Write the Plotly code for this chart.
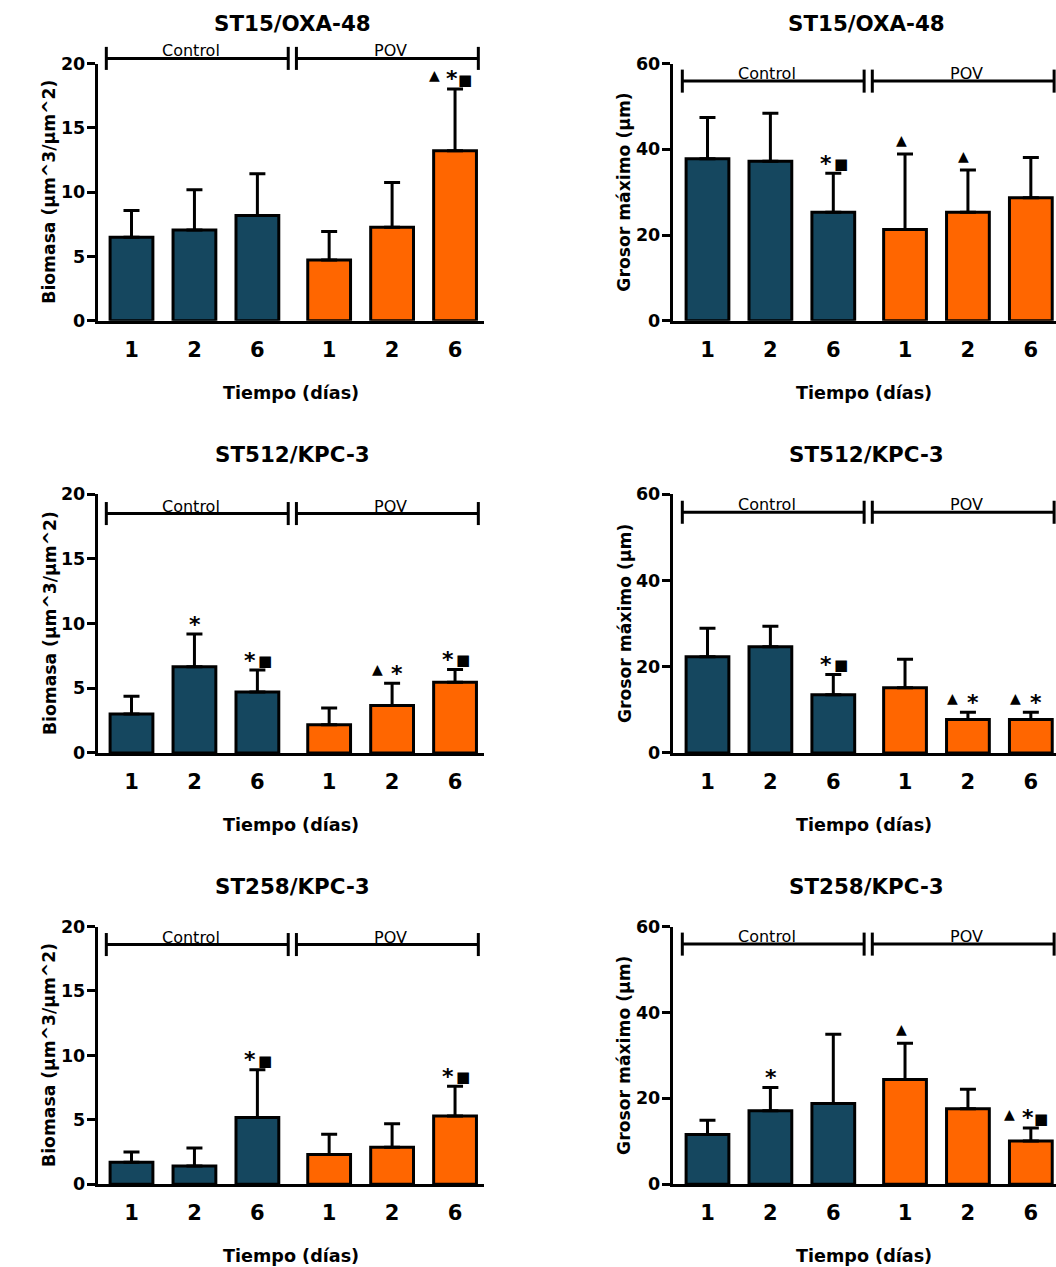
import plotly.graph_objects as go

# ---- data: mean and SD per day, for each strain/plasmid and treatment ----
days = ["1", "2", "6"]
group_names = ["Control", "POV"]

# Biomasa (µm^3/µm^2)
bio_st15_ctrl = [6.50, 7.06, 8.18]
bio_st15_ctrl_sd = [2.07, 3.12, 3.25]
bio_st15_pov = [4.73, 7.27, 13.22]
bio_st15_pov_sd = [2.21, 3.48, 4.81]

bio_st512_ctrl = [3.01, 6.67, 4.71]
bio_st512_ctrl_sd = [1.37, 2.52, 1.70]
bio_st512_pov = [2.19, 3.66, 5.46]
bio_st512_pov_sd = [1.29, 1.72, 1.00]

bio_st258_ctrl = [1.71, 1.42, 5.19]
bio_st258_ctrl_sd = [0.80, 1.40, 3.70]
bio_st258_pov = [2.30, 2.87, 5.30]
bio_st258_pov_sd = [1.58, 1.83, 2.30]

# Grosor máximo (µm)
gro_st15_ctrl = [37.8, 37.2, 25.3]
gro_st15_ctrl_sd = [9.6, 11.2, 9.1]
gro_st15_pov = [21.3, 25.3, 28.7]
gro_st15_pov_sd = [17.6, 9.9, 9.4]

gro_st512_ctrl = [22.3, 24.6, 13.5]
gro_st512_ctrl_sd = [6.6, 4.8, 4.7]
gro_st512_pov = [15.1, 7.74, 7.74]
gro_st512_pov_sd = [6.6, 1.7, 1.7]

gro_st258_ctrl = [11.6, 17.1, 18.8]
gro_st258_ctrl_sd = [3.3, 5.4, 16.1]
gro_st258_pov = [24.4, 17.6, 10.1]
gro_st258_pov_sd = [8.4, 4.5, 3.0]

# significance marks above each bar (▲, *, ■)
bio_st15_marks = ["", "", "", "", "", "▲*■"]
gro_st15_marks = ["", "", "*■", "▲", "▲", ""]
bio_st512_marks = ["", "*", "*■", "", "▲*", "*■"]
gro_st512_marks = ["", "", "*■", "", "▲*", "▲*"]
bio_st258_marks = ["", "", "*■", "", "", "*■"]
gro_st258_marks = ["", "*", "", "▲", "", "▲*■"]

titles = ["ST15/OXA-48", "ST512/KPC-3", "ST258/KPC-3"]
bio_title = "Biomasa (µm^3/µm^2)"
gro_title = "Grosor máximo (µm)"
x_title = "Tiempo (días)"

panels = [
    (titles[0], bio_title, bio_st15_ctrl, bio_st15_ctrl_sd, bio_st15_pov, bio_st15_pov_sd, bio_st15_marks, 20),
    (titles[0], gro_title, gro_st15_ctrl, gro_st15_ctrl_sd, gro_st15_pov, gro_st15_pov_sd, gro_st15_marks, 60),
    (titles[1], bio_title, bio_st512_ctrl, bio_st512_ctrl_sd, bio_st512_pov, bio_st512_pov_sd, bio_st512_marks, 20),
    (titles[1], gro_title, gro_st512_ctrl, gro_st512_ctrl_sd, gro_st512_pov, gro_st512_pov_sd, gro_st512_marks, 60),
    (titles[2], bio_title, bio_st258_ctrl, bio_st258_ctrl_sd, bio_st258_pov, bio_st258_pov_sd, bio_st258_marks, 20),
    (titles[2], gro_title, gro_st258_ctrl, gro_st258_ctrl_sd, gro_st258_pov, gro_st258_pov_sd, gro_st258_marks, 60),
]

# ---- styling / layout ----
W, H = 1056, 1267
NAVY = "#15475F"
ORANGE = "#FF6600"
FONT = "DejaVu Sans"
GROUP_GAP = 1.14          # distance between day 6 (Control) and day 1 (POV)
BAR_W = 0.68

ctrl_x = [0, 1, 2]
pov_x = [2 + GROUP_GAP + i for i in range(3)]
all_x = ctrl_x + pov_x

# pixel boxes of each column / row (top, bottom)
col_px = [(97.5, 484), (672.5, 1056)]
row_px = [(54.4, 315.8), (491.9, 754.9), (931.2, 1193.1)]
x_ranges = [[-0.54, 5.60], [-0.556, 5.54]]
bracket_y = [[20.4, 55.9], [18.5, 55.8], [18.6, 55.9]]
bracket_spans = [(-0.40, 2.49), (2.62, 5.51)]
label_x = [0.95, 4.12]
CAP_PX = 11.7

# horizontal pixel offsets of the significance symbols
mark_offsets = {
    "▲*■": [-21, -3, 10],
    "*■": [-7, 8],
    "▲*": [-15, 5],
    "▲": [-4],
    "*": [1],
}
sym_style = {
    "▲": dict(size=14, yshift=14),
    "*": dict(size=22, yshift=10),
    "■": dict(size=15, yshift=9),
}

fig = go.Figure()
annotations = []
shapes = []
layout_axes = {}

for i, (title, ytitle, c, csd, p, psd, marks, ymax) in enumerate(panels):
    row, col = divmod(i, 2)
    n = i + 1
    xa = "x" if n == 1 else f"x{n}"
    ya = "y" if n == 1 else f"y{n}"
    xkey = "xaxis" if n == 1 else f"xaxis{n}"
    ykey = "yaxis" if n == 1 else f"yaxis{n}"

    x0, x1 = col_px[col]
    top, bot = row_px[row]
    r0, r1 = x_ranges[col]

    layout_axes[xkey] = dict(
        domain=[x0 / W, x1 / W], anchor=ya, range=[r0, r1],
        showline=True, linewidth=2.5, linecolor="black", ticks="",
        tickvals=all_x, ticktext=days + days, ticklabelstandoff=8,
        tickfont=dict(family=FONT, size=21, color="black", weight="bold"),
        showgrid=False, zeroline=False, fixedrange=True,
    )
    layout_axes[ykey] = dict(
        domain=[1 - bot / H, 1 - top / H], anchor=xa, range=[0, ymax],
        dtick=ymax / 4 if ymax == 20 else 20,
        showline=True, linewidth=2.5, linecolor="black",
        ticks="outside", ticklen=8, tickwidth=2.5, tickcolor="black",
        ticklabelstandoff=-2,
        tickfont=dict(family=FONT, size=17.5, color="black", weight="bold"),
        showgrid=False, zeroline=False, fixedrange=True,
    )

    for xs, vals, sds, color in ((ctrl_x, c, csd, NAVY), (pov_x, p, psd, ORANGE)):
        fig.add_trace(go.Bar(
            x=xs, y=vals, width=BAR_W, xaxis=xa, yaxis=ya,
            marker=dict(color=color, line=dict(color="black", width=3)),
            error_y=dict(type="data", symmetric=False, array=sds,
                         arrayminus=[0] * len(sds), color="black",
                         thickness=3, width=8),
            showlegend=False, hoverinfo="skip",
        ))

    # group brackets with end caps, in axis-domain units so they may sit above the top tick
    hy = bracket_y[row][col] / ymax
    cap = CAP_PX / (bot - top)
    line_style = dict(color="black", width=3)
    xd, yd = f"{xa} domain", f"{ya} domain"
    for (a, b), name, lx in zip(bracket_spans, group_names, label_x):
        da = (a - r0) / (r1 - r0)
        db = (b - r0) / (r1 - r0)
        shapes.append(dict(type="line", xref=xd, yref=yd, x0=da, x1=db,
                           y0=hy, y1=hy, line=line_style))
        for dx in (da, db):
            shapes.append(dict(type="line", xref=xd, yref=yd, x0=dx, x1=dx,
                               y0=hy - cap, y1=hy + cap, line=line_style))
        annotations.append(dict(
            x=(lx - r0) / (r1 - r0), y=hy, xref=xd, yref=yd, text=name,
            showarrow=False, xanchor="center", yanchor="bottom", yshift=-4,
            font=dict(family=FONT, size=16, color="black"),
        ))

    # significance symbols above the error caps
    tops = [v + s for v, s in zip(c + p, csd + psd)]
    for xv, tv, mk in zip(all_x, tops, marks):
        if not mk:
            continue
        for sym, dx in zip(mk, mark_offsets[mk]):
            st = sym_style[sym]
            annotations.append(dict(
                x=xv, y=tv, xref=xa, yref=ya, text=sym, showarrow=False,
                xanchor="center", xshift=dx, yshift=st["yshift"],
                yanchor="middle",
                font=dict(family=FONT, size=st["size"], color="black",
                          weight="bold"),
            ))

    # panel title and axis titles
    annotations.append(dict(
        x=0.5, y=1, xref=xd, yref=yd, text=title, xanchor="center",
        showarrow=False, yanchor="middle", yshift=40, xshift=2,
        font=dict(family=FONT, size=21.4, color="black", weight="bold"),
    ))
    annotations.append(dict(
        x=0.5, y=0, xref=xd, yref=yd, text=x_title, xanchor="center",
        showarrow=False, yanchor="middle", yshift=-72,
        font=dict(family=FONT, size=17.6, color="black", weight="bold"),
    ))
    annotations.append(dict(
        x=0, y=0.5, xref=xd, yref=yd, text=ytitle,
        showarrow=False, xanchor="center", xshift=-48, textangle=-90,
        font=dict(family=FONT, size=17.2, color="black", weight="bold"),
    ))

fig.update_layout(
    width=W, height=H,
    margin=dict(l=0, r=0, t=0, b=0),
    paper_bgcolor="white", plot_bgcolor="white",
    barmode="overlay", showlegend=False,
    annotations=annotations, shapes=shapes,
    **layout_axes,
)

fig.write_html("out.html")
